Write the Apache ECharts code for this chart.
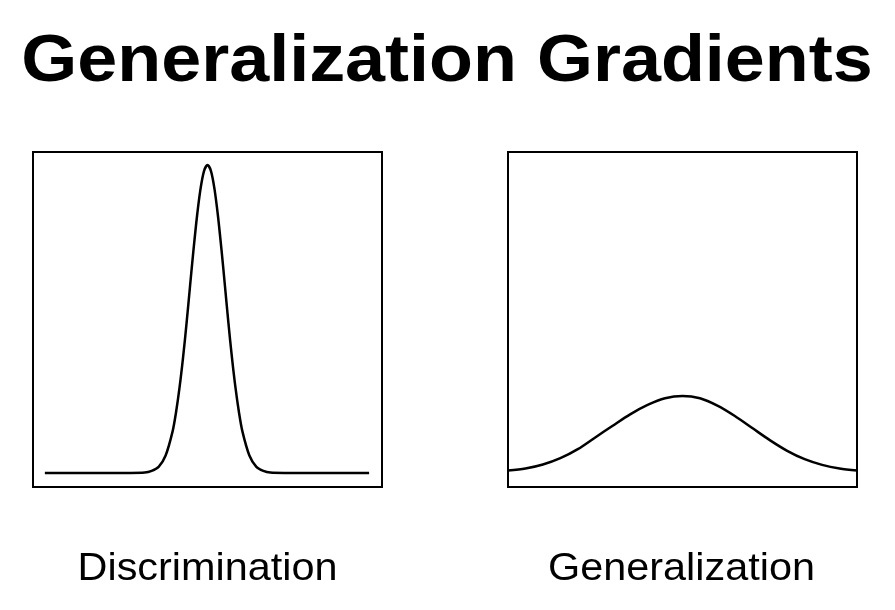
<!DOCTYPE html>
<html>
<head>
<meta charset="utf-8">
<script src="https://cdn.jsdelivr.net/npm/echarts@6/dist/echarts.min.js"></script>
<style>
html,body{margin:0;padding:0;background:#fff;}
#chart{width:895px;height:610px;}
</style>
</head>
<body>
<div id="chart"></div>
<script>
var titleText = 'Generalization Gradients';
var panelLabels = ['Discrimination', 'Generalization'];

var discX = [3.4, 20, 28, 32, 34, 36, 38, 40, 41, 42, 43, 44, 45, 46, 47, 48, 49, 50, 51, 52, 53, 54, 55, 56, 57, 58, 59, 60, 62, 64, 66, 68, 72, 80, 96.3];
var discY = [4.2, 4.2, 4.2, 4.3, 4.8, 6.0, 9.4, 16.6, 22.4, 29.8, 38.7, 48.9, 60.0, 70.9, 80.9, 89.0, 94.3, 96.1, 94.3, 89.0, 80.9, 70.9, 60.0, 48.9, 38.7, 29.8, 22.4, 16.6, 9.4, 6.0, 4.8, 4.3, 4.2, 4.2, 4.2];

var genX = [0, 5, 10, 15, 20, 25, 30, 35, 40, 45, 50, 55, 60, 65, 70, 75, 80, 85, 90, 95, 100];
var genY = [4.9, 5.5, 6.7, 8.6, 11.3, 14.8, 18.3, 21.7, 24.5, 26.5, 27.2, 26.5, 24.3, 21.2, 17.6, 14.0, 10.8, 8.3, 6.6, 5.5, 4.9];

function pairs(xs, ys) {
  return xs.map(function (x, i) { return [x, ys[i]]; });
}

var FONT = '"Liberation Sans", Arial, sans-serif';
var chart = echarts.init(document.getElementById('chart'), null, {renderer: 'canvas'});
var axisCommon = {type: 'value', min: 0, max: 100, show: false, splitLine: {show: false}};
chart.setOption({
  animation: false,
  backgroundColor: '#ffffff',
  graphic: [
    {type: 'text', x: 447, y: 63, scaleX: 1.09, z: 10,
     style: {text: titleText, font: 'bold 66px ' + FONT, fill: '#000', align: 'center', verticalAlign: 'middle'}},
    {type: 'text', x: 207.5, y: 569, scaleX: 1.075, z: 10,
     style: {text: panelLabels[0], font: '38.5px ' + FONT, fill: '#000', align: 'center', verticalAlign: 'middle'}},
    {type: 'text', x: 681.5, y: 569, scaleX: 1.075, z: 10,
     style: {text: panelLabels[1], font: '38.5px ' + FONT, fill: '#000', align: 'center', verticalAlign: 'middle'}}
  ],
  grid: [
    {left: 33, top: 152, width: 349, height: 335, show: true, borderColor: '#000', borderWidth: 2, backgroundColor: 'transparent'},
    {left: 508, top: 152, width: 349, height: 335, show: true, borderColor: '#000', borderWidth: 2, backgroundColor: 'transparent'}
  ],
  xAxis: [
    Object.assign({gridIndex: 0}, axisCommon),
    Object.assign({gridIndex: 1}, axisCommon)
  ],
  yAxis: [
    Object.assign({gridIndex: 0}, axisCommon),
    Object.assign({gridIndex: 1}, axisCommon)
  ],
  series: [
    {type: 'line', xAxisIndex: 0, yAxisIndex: 0, data: pairs(discX, discY), smooth: 0.3,
     showSymbol: false, lineStyle: {color: '#000', width: 2.5}},
    {type: 'line', xAxisIndex: 1, yAxisIndex: 1, data: pairs(genX, genY), smooth: 0.3,
     showSymbol: false, lineStyle: {color: '#000', width: 2.5}}
  ]
});
</script>
</body>
</html>
